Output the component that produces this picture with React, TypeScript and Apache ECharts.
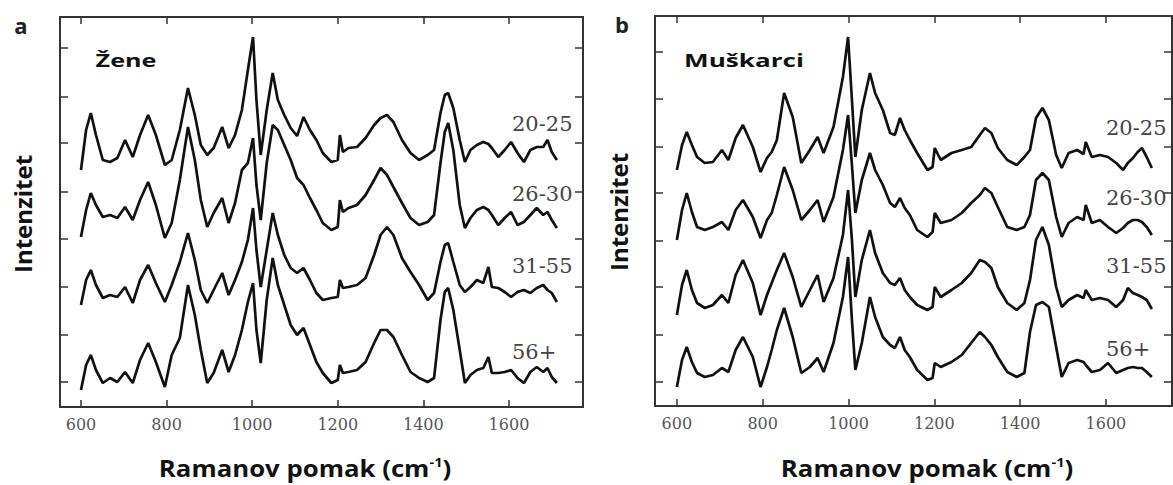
import React, { useEffect, useRef } from "react";
import * as echarts from "echarts";

// ---------- Data (Raman shift in cm-1, intensity in arbitrary units, offset per age group) ----------
const X_TICKS = [600, 800, 1000, 1200, 1400, 1600];
const AGE_GROUPS = ["20-25", "26-30", "31-55", "56+"];

// Panel a: Žene (women)
const WN_A = [600, 612, 623, 635, 651, 668, 685, 703, 721, 738, 757, 775, 796, 812, 831, 850, 866, 880, 895, 910, 930, 945, 960, 976, 990, 1002, 1010, 1020, 1034, 1048, 1060, 1075, 1090, 1105, 1120, 1135, 1150, 1165, 1185, 1200, 1205, 1212, 1225, 1245, 1265, 1285, 1300, 1315, 1330, 1350, 1370, 1390, 1410, 1425, 1440, 1450, 1458, 1470, 1485, 1497, 1510, 1525, 1540, 1552, 1560, 1575, 1590, 1605, 1620, 1635, 1650, 1665, 1680, 1690, 1700, 1712];
const A_20_25 = [212, 252, 269, 247, 222, 220, 224, 242, 225, 247, 267, 247, 217, 222, 252, 294, 267, 237, 227, 234, 255, 234, 247, 272, 312, 345, 282, 227, 272, 309, 282, 267, 254, 246, 265, 252, 242, 229, 220, 222, 247, 230, 234, 235, 244, 257, 264, 267, 260, 242, 229, 222, 227, 232, 269, 287, 289, 274, 242, 220, 232, 237, 240, 238, 234, 225, 232, 240, 229, 220, 232, 235, 235, 242, 230, 222];
const A_26_30 = [145, 172, 189, 177, 165, 167, 164, 175, 162, 182, 200, 177, 144, 159, 202, 255, 222, 182, 155, 169, 184, 159, 179, 212, 219, 244, 197, 162, 219, 257, 252, 237, 222, 204, 197, 184, 172, 159, 152, 155, 182, 170, 174, 177, 187, 202, 214, 207, 195, 179, 164, 157, 160, 167, 219, 250, 259, 232, 177, 154, 164, 172, 175, 172, 167, 157, 164, 170, 157, 160, 167, 174, 167, 170, 162, 154];
const A_31_55 = [77, 102, 112, 97, 84, 87, 85, 95, 79, 102, 117, 99, 80, 97, 120, 149, 122, 92, 79, 92, 109, 87, 102, 120, 142, 174, 132, 95, 132, 169, 147, 127, 114, 109, 114, 102, 89, 82, 84, 85, 102, 94, 95, 97, 104, 127, 147, 155, 147, 124, 110, 97, 82, 89, 120, 137, 139, 120, 97, 90, 95, 102, 99, 115, 95, 94, 90, 85, 90, 92, 89, 94, 97, 92, 89, 80];
const A_56 = [-8, 17, 27, 12, -1, 4, 0, 10, -1, 22, 39, 20, -5, 27, 44, 97, 67, 32, -1, 9, 32, 10, 27, 52, 80, 99, 52, 19, 82, 124, 97, 77, 57, 47, 54, 37, 20, 9, -1, 2, 17, 9, 10, 12, 20, 39, 52, 52, 45, 27, 10, 4, 0, 4, 62, 90, 94, 72, 32, -1, 7, 12, 14, 25, 9, 9, 10, 12, 4, -1, 10, 15, 10, 14, 5, -1];

// Panel b: Muškarci (men)
const WN_B = [600, 612, 623, 635, 647, 665, 684, 705, 720, 737, 754, 777, 795, 810, 821, 833, 850, 870, 890, 910, 928, 942, 965, 987, 999, 1008, 1016, 1031, 1050, 1062, 1080, 1097, 1108, 1120, 1131, 1143, 1160, 1184, 1196, 1201, 1215, 1240, 1264, 1286, 1306, 1318, 1333, 1348, 1370, 1392, 1410, 1423, 1437, 1452, 1467, 1484, 1497, 1513, 1533, 1548, 1553, 1567, 1586, 1605, 1624, 1640, 1651, 1663, 1674, 1684, 1695, 1707];
const B_20_25 = [212, 237, 250, 237, 225, 219, 220, 232, 222, 244, 257, 235, 210, 224, 230, 242, 289, 265, 219, 232, 245, 229, 255, 305, 345, 282, 225, 272, 309, 289, 272, 249, 247, 264, 252, 242, 229, 212, 215, 234, 222, 229, 232, 235, 247, 254, 249, 234, 222, 217, 225, 232, 264, 274, 262, 227, 214, 229, 232, 228, 240, 225, 227, 225, 219, 212, 219, 224, 230, 234, 225, 214];
const B_26_30 = [142, 172, 189, 170, 155, 152, 155, 160, 152, 172, 182, 165, 144, 162, 169, 187, 215, 192, 162, 172, 182, 160, 185, 232, 267, 217, 169, 202, 229, 212, 197, 179, 175, 184, 174, 167, 152, 145, 150, 169, 159, 162, 169, 179, 187, 194, 189, 175, 155, 152, 155, 167, 202, 209, 202, 165, 145, 159, 165, 162, 177, 159, 162, 155, 149, 154, 159, 162, 162, 160, 155, 147];
const B_31_55 = [67, 97, 112, 92, 79, 74, 77, 87, 79, 107, 122, 99, 67, 87, 99, 112, 129, 105, 75, 92, 107, 80, 104, 147, 192, 142, 85, 122, 152, 129, 109, 99, 97, 104, 92, 85, 77, 72, 75, 95, 85, 92, 99, 109, 122, 120, 114, 95, 79, 72, 79, 102, 142, 155, 137, 95, 75, 82, 87, 84, 92, 82, 84, 82, 75, 82, 94, 89, 87, 85, 82, 73];
const B_56 = [-5, 22, 35, 20, 9, 5, 7, 14, 10, 32, 45, 25, -5, 15, 32, 52, 74, 45, 9, 15, 24, 10, 39, 85, 125, 62, 12, 39, 85, 65, 45, 37, 34, 45, 32, 25, 12, 2, 4, 19, 15, 20, 27, 39, 50, 45, 37, 25, 10, 5, 9, 50, 77, 80, 75, 35, 5, 19, 22, 20, 17, 10, 12, 19, 9, 12, 14, 15, 14, 14, 10, 5];

// Intensity ticks (unlabelled) on the two panels
const Y_TICKS_A = [0, 47, 95, 143, 190, 239, 285, 334];
const Y_TICKS_B = [0, 47, 95, 141, 189, 235, 283, 330];

const FRAME = "#333";
const LINE = "#111";

function xAxes(gridIndex: number, min: number, max: number) {
  const common = {
    type: "value",
    gridIndex,
    min,
    max,
    axisLine: { show: true, onZero: false, lineStyle: { color: FRAME, width: 2 } },
    axisTick: { show: true, inside: true, length: 7, customValues: X_TICKS, lineStyle: { color: FRAME, width: 1.5 } },
    splitLine: { show: false },
  };
  return [
    {
      ...common,
      position: "bottom",
      axisLabel: {
        show: true,
        customValues: X_TICKS,
        formatter: (v: number) => String(v),
        color: "#555",
        fontFamily: "DejaVu Serif",
        fontSize: 16,
        margin: 9,
      },
    },
    { ...common, position: "top", axisLabel: { show: false } },
  ];
}

function yAxes(gridIndex: number, min: number, max: number, ticks: number[]) {
  const common = {
    type: "value",
    gridIndex,
    min,
    max,
    axisLine: { show: true, onZero: false, lineStyle: { color: FRAME, width: 2 } },
    axisTick: { show: true, inside: true, length: 8, customValues: ticks, lineStyle: { color: FRAME, width: 1.5 } },
    axisLabel: { show: false },
    splitLine: { show: false },
  };
  return [
    { ...common, position: "left" },
    { ...common, position: "right" },
  ];
}

function spectrum(name: string, wn: number[], vals: number[], axis: number) {
  return {
    name,
    type: "line",
    xAxisIndex: axis,
    yAxisIndex: axis,
    data: wn.map((x, i) => [x, vals[i]]),
    showSymbol: false,
    symbol: "none",
    silent: true,
    lineStyle: { color: LINE, width: 2.7 },
  };
}

function text(t: string, x: number, y: number, extra: any = {}, style: any = {}) {
  return {
    type: "text",
    x,
    y,
    ...extra,
    style: {
      text: t,
      fill: "#111",
      fontFamily: "Open Sans",
      fontWeight: "bold",
      fontSize: 18,
      align: "center",
      verticalAlign: "middle",
      ...style,
    },
  };
}

const labelStyle = { fontFamily: "DejaVu Serif", fontWeight: "normal", fontSize: 21, fill: "#444", align: "left" };
const LABEL_Y_A = [124, 194, 266, 352];
const LABEL_Y_B = [128, 198, 266, 349];

const xTitleRich = {
  text: "{m|Ramanov pomak (cm}{s|-1}{m|)}",
  rich: {
    m: { fontFamily: "Open Sans", fontWeight: "bold", fontSize: 23, fill: "#111", lineHeight: 26 },
    s: { fontFamily: "Open Sans", fontWeight: "bold", fontSize: 13, fill: "#111", verticalAlign: "top", lineHeight: 26, padding: [0, 0, 8, 0] },
  },
};

export default function App() {
  const ref = useRef<HTMLDivElement>(null);
  useEffect(() => {
    if (!ref.current) return;
    const chart = echarts.init(ref.current, null, { renderer: "svg" });
    const option: any = {
      animation: false,
      backgroundColor: "#fff",
      grid: [
        { left: 60, top: 17, width: 523, height: 390, containLabel: false },
        { left: 655, top: 16, width: 517, height: 390, containLabel: false },
      ],
      xAxis: [...xAxes(0, 551, 1773), ...xAxes(1, 549, 1754)],
      yAxis: [...yAxes(0, -25, 365, Y_TICKS_A), ...yAxes(1, -24, 366, Y_TICKS_B)],
      series: [
        spectrum("a " + AGE_GROUPS[0], WN_A, A_20_25, 0),
        spectrum("a " + AGE_GROUPS[1], WN_A, A_26_30, 0),
        spectrum("a " + AGE_GROUPS[2], WN_A, A_31_55, 0),
        spectrum("a " + AGE_GROUPS[3], WN_A, A_56, 0),
        spectrum("b " + AGE_GROUPS[0], WN_B, B_20_25, 2),
        spectrum("b " + AGE_GROUPS[1], WN_B, B_26_30, 2),
        spectrum("b " + AGE_GROUPS[2], WN_B, B_31_55, 2),
        spectrum("b " + AGE_GROUPS[3], WN_B, B_56, 2),
      ],
      graphic: [
        text("a", 21, 25, {}, { fontSize: 22, fill: "#222" }),
        text("b", 622, 24, {}, { fontSize: 22, fill: "#222" }),
        text("Žene", 126, 60, { scaleX: 1.4 }),
        text("Muškarci", 744, 60, { scaleX: 1.45 }),
        text("Intenzitet", 22, 214, { rotation: Math.PI / 2 }, { fontSize: 24 }),
        text("Intenzitet", 618, 212, { rotation: Math.PI / 2 }, { fontSize: 24 }),
        { type: "text", x: 305, y: 468, scaleX: 1.12, style: { ...xTitleRich, align: "center", verticalAlign: "middle" } },
        { type: "text", x: 927, y: 468, scaleX: 1.12, style: { ...xTitleRich, align: "center", verticalAlign: "middle" } },
        ...AGE_GROUPS.map((g, i) => text(g, 512, LABEL_Y_A[i], {}, labelStyle)),
        ...AGE_GROUPS.map((g, i) => text(g, 1106, LABEL_Y_B[i], {}, labelStyle)),
      ],
    };
    chart.setOption(option);
    return () => chart.dispose();
  }, []);
  return (
    <div
      ref={ref}
      style={{ position: "fixed", left: 0, top: 0, width: 1173, height: 485, background: "#fff" }}
    />
  );
}
